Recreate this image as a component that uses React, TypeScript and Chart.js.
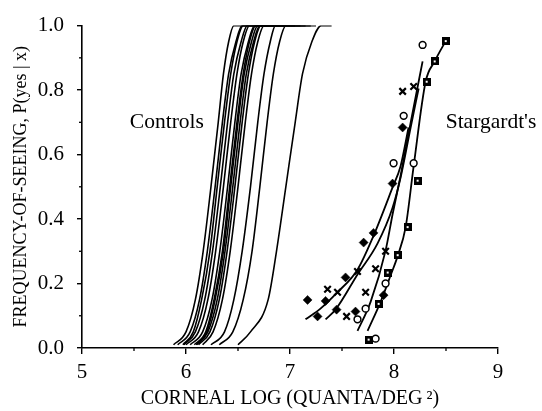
import React, { useEffect, useRef } from 'react';
import { Chart, registerables } from 'chart.js';

Chart.register(...registerables);

// ---- Data ----
const X_TICKS = [5, 6, 7, 8, 9];
const Y_TICKS = [0.0, 0.2, 0.4, 0.6, 0.8, 1.0];
const MINOR_X = [5.5, 6.5, 7.5, 8.5];
const MINOR_Y = [0.1, 0.3, 0.5, 0.7, 0.9];

// probability levels at which each control curve was read
const CONTROL_LEVELS = [0.01, 0.05, 0.15, 0.3, 0.5, 0.7, 0.85, 0.95, 1.0, 1.0];
// log intensity read at each level, one row per control subject
const CONTROL_CURVES_X = [
  [5.88, 6.0, 6.09, 6.165, 6.24, 6.31, 6.36, 6.41, 6.46, 6.6],
  [5.92, 6.04, 6.13, 6.205, 6.28, 6.35, 6.41, 6.48, 6.54, 6.7],
  [5.97, 6.07, 6.15, 6.23, 6.3, 6.37, 6.43, 6.49, 6.55, 6.75],
  [5.98, 6.09, 6.18, 6.255, 6.33, 6.4, 6.46, 6.53, 6.59, 6.8],
  [6.0, 6.12, 6.21, 6.285, 6.36, 6.43, 6.49, 6.55, 6.61, 6.85],
  [6.04, 6.16, 6.25, 6.325, 6.4, 6.47, 6.53, 6.6, 6.66, 6.9],
  [6.08, 6.19, 6.27, 6.35, 6.42, 6.49, 6.55, 6.61, 6.67, 6.95],
  [6.1, 6.2, 6.28, 6.36, 6.43, 6.5, 6.56, 6.63, 6.69, 7.0],
  [6.1, 6.21, 6.3, 6.375, 6.45, 6.52, 6.58, 6.65, 6.71, 7.05],
  [6.12, 6.23, 6.32, 6.395, 6.47, 6.54, 6.6, 6.66, 6.72, 7.1],
  [6.16, 6.26, 6.35, 6.425, 6.5, 6.57, 6.63, 6.69, 6.75, 7.15],
  [6.24, 6.37, 6.46, 6.54, 6.62, 6.69, 6.75, 6.81, 6.86, 7.2],
  [6.32, 6.45, 6.55, 6.635, 6.71, 6.78, 6.84, 6.9, 6.96, 7.25],
  [6.5, 6.62, 6.79, 6.87, 6.96, 7.05, 7.12, 7.21, 7.3, 7.4],
];

// Stargardt's patients: fitted curves
const CURVE_DIAMOND_X = [7.149, 7.293, 7.457, 7.649, 7.803, 7.986, 8.063, 8.14];
const CURVE_DIAMOND_Y = [0.089, 0.122, 0.173, 0.243, 0.348, 0.498, 0.564, 0.684];
const CURVE_CROSS_X = [7.342, 7.438, 7.649, 7.841, 7.986, 8.063, 8.16, 8.237];
const CURVE_CROSS_Y = [0.089, 0.119, 0.228, 0.324, 0.435, 0.528, 0.684, 0.805];
const CURVE_CIRCLE_X = [7.649, 7.775, 7.919, 7.986, 8.063, 8.16, 8.275];
const CURVE_CIRCLE_Y = [0.053, 0.143, 0.302, 0.414, 0.534, 0.699, 0.889];
const CURVE_SQUARE_X = [7.746, 7.871, 7.967, 8.035, 8.112, 8.189, 8.304, 8.391, 8.497];
const CURVE_SQUARE_Y = [0.053, 0.143, 0.225, 0.285, 0.375, 0.564, 0.826, 0.889, 0.952];

// Stargardt's patients: measured points
const PTS_DIAMOND_X = [7.169, 7.265, 7.342, 7.448, 7.534, 7.63, 7.708, 7.803, 7.9, 7.986, 8.083];
const PTS_DIAMOND_Y = [0.149, 0.098, 0.146, 0.119, 0.219, 0.113, 0.327, 0.357, 0.164, 0.51, 0.684];
const PTS_CROSS_X = [7.361, 7.457, 7.544, 7.649, 7.727, 7.823, 7.919, 8.083, 8.189];
const PTS_CROSS_Y = [0.182, 0.173, 0.098, 0.237, 0.173, 0.246, 0.3, 0.796, 0.811];
const PTS_CIRCLE_X = [7.649, 7.727, 7.823, 7.919, 7.996, 8.093, 8.189, 8.275];
const PTS_CIRCLE_Y = [0.089, 0.122, 0.029, 0.2, 0.573, 0.72, 0.573, 0.94];
const PTS_SQUARE_X = [7.756, 7.852, 7.939, 8.035, 8.131, 8.227, 8.314, 8.391, 8.497];
const PTS_SQUARE_Y = [0.026, 0.137, 0.234, 0.288, 0.375, 0.519, 0.826, 0.889, 0.952];

const LABELS = [
  { text: 'Controls', x: 5.46, y: 0.7 },
  { text: "Stargardt's", x: 8.497, y: 0.7 },
];

const FONT = '"Liberation Serif", "Times New Roman", serif';

const zip = (xs: number[], ys: number[]) => xs.map((x, i) => ({ x, y: ys[i] }));

export default function App() {
  const ref = useRef<HTMLCanvasElement | null>(null);

  useEffect(() => {
    if (!ref.current) return;

    const sq = document.createElement('canvas');
    sq.width = 8;
    sq.height = 8;
    const sctx = sq.getContext('2d')!;
    sctx.fillStyle = '#000';
    sctx.fillRect(0, 0, 8, 8);
    sctx.fillStyle = '#fff';
    sctx.fillRect(3, 3, 2, 2);

    const lineDs = (data: { x: number; y: number }[], w: number) => ({
      data,
      showLine: true,
      borderColor: '#000',
      borderWidth: w,
      pointRadius: 0,
      cubicInterpolationMode: 'monotone' as const,
      fill: false,
      order: 2,
    });

    const controls = CONTROL_CURVES_X.map((xs) => lineDs(zip(xs, CONTROL_LEVELS), 1.6));

    const datasets: any[] = [
      {
        data: zip(PTS_DIAMOND_X, PTS_DIAMOND_Y),
        pointStyle: 'rectRot',
        pointRadius: 4.5,
        backgroundColor: '#000',
        borderColor: '#000',
        borderWidth: 0.5,
        showLine: false,
        order: 0,
      },
      {
        data: zip(PTS_CROSS_X, PTS_CROSS_Y),
        pointStyle: 'crossRot',
        pointRadius: 4.6,
        borderColor: '#000',
        borderWidth: 2.2,
        showLine: false,
        order: 0,
      },
      {
        data: zip(PTS_CIRCLE_X, PTS_CIRCLE_Y),
        pointStyle: 'circle',
        pointRadius: 3.4,
        backgroundColor: '#fff',
        borderColor: '#000',
        borderWidth: 1.5,
        showLine: false,
        order: 0,
      },
      {
        data: zip(PTS_SQUARE_X, PTS_SQUARE_Y),
        pointStyle: sq,
        pointRadius: 4,
        showLine: false,
        order: 0,
      },
      lineDs(zip(CURVE_DIAMOND_X, CURVE_DIAMOND_Y), 1.8),
      lineDs(zip(CURVE_CROSS_X, CURVE_CROSS_Y), 1.8),
      lineDs(zip(CURVE_CIRCLE_X, CURVE_CIRCLE_Y), 1.8),
      lineDs(zip(CURVE_SQUARE_X, CURVE_SQUARE_Y), 1.8),
      ...controls,
    ];

    const extras = {
      id: 'extras',
      afterDraw(chart: any) {
        const { ctx, chartArea, scales } = chart;
        const xs = scales.x;
        const ys = scales.y;
        ctx.save();
        ctx.strokeStyle = '#000';
        ctx.lineWidth = 1.3;
        MINOR_X.forEach((v) => {
          const px = xs.getPixelForValue(v);
          ctx.beginPath();
          ctx.moveTo(px, chartArea.bottom);
          ctx.lineTo(px, chartArea.bottom + 3);
          ctx.stroke();
        });
        MINOR_Y.forEach((v) => {
          const py = ys.getPixelForValue(v);
          ctx.beginPath();
          ctx.moveTo(chartArea.left - 3, py);
          ctx.lineTo(chartArea.left, py);
          ctx.stroke();
        });
        ctx.fillStyle = '#000';
        ctx.font = `21.5px ${FONT}`;
        ctx.textAlign = 'left';
        ctx.textBaseline = 'middle';
        LABELS.forEach((l) => {
          ctx.fillText(l.text, xs.getPixelForValue(l.x), ys.getPixelForValue(l.y));
        });
        ctx.restore();
      },
    };

    const chart = new Chart(ref.current, {
      type: 'scatter',
      data: { datasets },
      options: {
        animation: false,
        responsive: false,
        layout: { padding: { top: 15, right: 44, left: 0, bottom: 0 } },
        plugins: { legend: { display: false }, tooltip: { enabled: false } },
        scales: {
          x: {
            type: 'linear',
            min: 5,
            max: 9,
            afterFit: (s: any) => {
              s.height = 63;
            },
            afterBuildTicks: (s: any) => {
              s.ticks = X_TICKS.map((v) => ({ value: v }));
            },
            ticks: {
              color: '#000',
              font: { family: FONT, size: 21 },
              padding: 6,
              callback: (v: any) => String(v),
            },
            grid: {
              display: true,
              drawOnChartArea: false,
              drawTicks: true,
              tickLength: 6,
              color: '#000',
              lineWidth: 1.4,
            },
            border: { display: true, color: '#000', width: 1.6 },
            title: {
              display: true,
              text: 'CORNEAL LOG (QUANTA/DEG\u2009\u00B2)',
              color: '#000',
              font: { family: FONT, size: 20 },
              padding: { top: 0, bottom: 0 },
            },
          },
          y: {
            type: 'linear',
            min: 0,
            max: 1,
            afterFit: (s: any) => {
              s.width = 82;
            },
            afterBuildTicks: (s: any) => {
              s.ticks = Y_TICKS.map((v) => ({ value: v }));
            },
            ticks: {
              color: '#000',
              font: { family: FONT, size: 21 },
              padding: 13,
              callback: (v: any) => Number(v).toFixed(1),
            },
            grid: {
              display: true,
              drawOnChartArea: false,
              drawTicks: true,
              tickLength: 5,
              color: '#000',
              lineWidth: 1.4,
            },
            border: { display: true, color: '#000', width: 1.6 },
            title: {
              display: true,
              text: 'FREQUENCY-OF-SEEING, P(yes | x)',
              color: '#000',
              font: { family: FONT, size: 18 },
              padding: { top: 10, bottom: 0 },
            },
          },
        },
      },
      plugins: [extras],
    });

    return () => chart.destroy();
  }, []);

  return (
    <div style={{ position: 'fixed', left: 0, top: 0, width: 542, height: 411, background: '#fff' }}>
      <canvas ref={ref} width={542} height={411} style={{ display: 'block' }} />
    </div>
  );
}
